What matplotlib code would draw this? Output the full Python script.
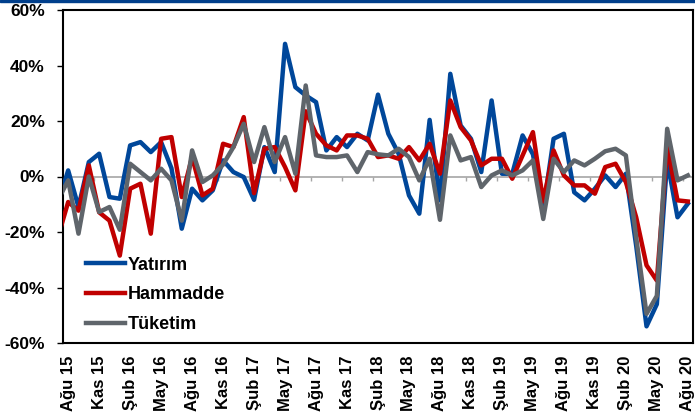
import numpy as np
import matplotlib.pyplot as plt
from matplotlib.patches import Rectangle

plt.rcParams['font.family'] = ['Liberation Sans', 'DejaVu Sans']
plt.rcParams['font.weight'] = 'bold'

# monthly % change, Tem 15 (clipped at the left edge) .. Ağu 20
yatirim = [-9.8, 2.2, -11, 5.2, 8.2, -7.4, -8, 11.2, 12.4, 8.8, 12.4, 3, -18.8, -4.4, -8.6, -5,
           5.8, 1.6, -0.2, -8.4, 10.6, 1.6, 47.8, 32.2, 29.2, 26.8, 9.4, 14.2, 10.6, 15.4, 13,
           29.5, 15.4, 8.2, -6.8, -13.4, 20.4, -8.6, 37, 18.4, 13.6, 1.6, 27.4, 1, 1, 14.8,
           8, -12, 13.6, 15.4, -5.7, -8.6, -4.4, 0.4, -3.8, 1, -25, -54, -46, 5.8, -14.7, -9.8]
hammadde = [-22, -9.2, -12.3, 4, -12.9, -15.9, -28.5, -4.4, -2.6, -20.6, 13.6, 14.2, -7.4, 7, -6.8, -4.4,
            11.8, 10.6, 21.4, -6, 10, 10.6, 3.4, -5, 23.5, 15.4, 11.2, 9.4, 14.8, 14.8, 13.6,
            7, 7.6, 6.4, 10.6, 5.8, 11.8, 1, 27.4, 17.8, 13, 4, 6.4, 6.4, -0.8, 7.6,
            16, -9, 9.4, 0.4, -3.2, -3.2, -6.2, 3.4, 4.6, -2, -14.7, -32, -37.5, 10.6, -8.6, -9]
tuketim = [-8.6, -1.4, -20.6, 0, -12.8, -11, -19.2, 4.6, 1.6, -1.4, 2.8, -1.4, -15.9, 9.4, -2, 0.4,
           4.3, 10.6, 19, 5.2, 17.8, 5.2, 14.2, 1, 32.8, 7.6, 7, 7, 7.6, 1.6, 8.8,
           8, 7.6, 10, 7, -1.4, 6.4, -15.6, 14.8, 5.8, 7, -3.8, 0.4, 2.2, 0.4, 2.2,
           5.8, -15.3, 6.4, 1.6, 5.8, 4, 6.4, 9.1, 10, 7.6, -22, -49.5, -43, 17.2, -1.4, 0.4]

tick_labels = ['Ağu 15', 'Kas 15', 'Şub 16', 'May 16', 'Ağu 16', 'Kas 16', 'Şub 17',
               'May 17', 'Ağu 17', 'Kas 17', 'Şub 18', 'May 18', 'Ağu 18', 'Kas 18',
               'Şub 19', 'May 19', 'Ağu 19', 'Kas 19', 'Şub 20', 'May 20', 'Ağu 20']

x = np.arange(len(yatirim)) - 1  # first value is the month before Ağu 15

fig = plt.figure(figsize=(6.95, 4.18), dpi=100)
ax = fig.add_axes([63 / 695, 1 - 343 / 418, 630 / 695, 333 / 418])
fig.patches.append(Rectangle((0, 1 - 2 / 418), 1, 2 / 418, transform=fig.transFigure,
                             color='#003F8C', zorder=5))

ax.axhline(0, color='#A6A6A6', lw=1.2, zorder=1)
ax.vlines(np.arange(-0.5, 61, 3), -1.8, 0, color='#A6A6A6', lw=1.0, zorder=1)

ax.plot(x, yatirim, color='#00479A', lw=3.2, label='Yatırım', zorder=3)
ax.plot(x, hammadde, color='#C00000', lw=3.2, label='Hammadde', zorder=4)
ax.plot(x, tuketim, color='#5F656B', lw=3.2, label='Tüketim', zorder=5)

ax.set_xlim(-0.5, 60.5)
ax.set_ylim(-60, 60)
ax.set_yticks(np.arange(-60, 61, 20))
ax.set_yticklabels([f'{v}%' for v in range(-60, 61, 20)], fontsize=12.5, fontweight='bold')
ax.set_xticks(np.arange(0, 61, 3))
ax.set_xticklabels(tick_labels, rotation=90, fontsize=12, fontweight='bold')
ax.tick_params(axis='x', length=0, pad=9)
ax.tick_params(axis='y', length=4, width=1, pad=9)

for s in ax.spines.values():
    s.set_linewidth(1.5)
    s.set_color('black')

ax.legend(loc='lower left', bbox_to_anchor=(0.036, 0.03), frameon=False, borderpad=0,
          borderaxespad=0, handlelength=2.2, handletextpad=0.12, labelspacing=0.7,
          prop={'size': 13, 'weight': 'bold'})

fig.savefig('out.png', dpi=100)
